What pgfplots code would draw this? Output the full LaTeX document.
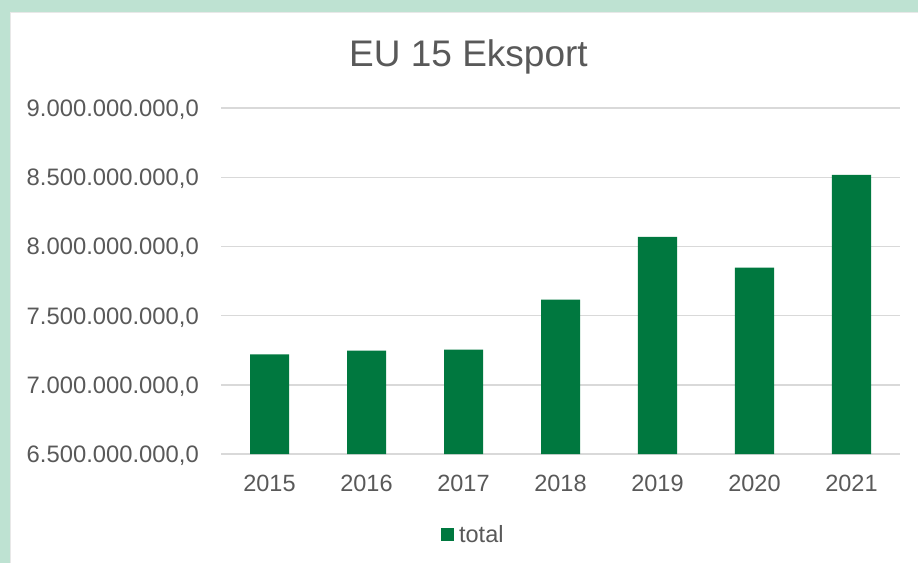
\documentclass[border=0pt]{standalone}
\usepackage{fontspec}
\setmainfont{Liberation Sans}
\usepackage{pgfplots}
\pgfplotsset{compat=1.18}
\definecolor{bargreen}{RGB}{0,120,63}
\definecolor{framegreen}{RGB}{190,226,210}
\definecolor{txtgray}{RGB}{89,89,89}
\definecolor{gridgray}{RGB}{217,217,217}

\begin{document}
\begin{tikzpicture}[x=1pt,y=1pt]
	% chart frame
	\fill[framegreen] (0,0) rectangle (918,563);
	\fill[white] (10,0) rectangle (918,551);
	\draw[gray!18, line width=0.8pt] (10.4,0) -- (10.4,550.6) -- (918,550.6);
	\node[font=\fontsize{37}{44}\selectfont, text=txtgray, anchor=base] at (468.5,496) {EU 15 Eksport};
	\begin{axis}[
		at={(221pt,109pt)}, anchor=south west, scale only axis,
		width=679pt, height=346pt,
		ybar, bar width=39pt,
		xmin=-0.5, xmax=6.5, ymin=6.5e9, ymax=9e9,
		scaled y ticks=false,
		xtick={0,1,2,3,4,5,6},
		xticklabels={2015,2016,2017,2018,2019,2020,2021},
		ytick={6.5e9,7e9,7.5e9,8e9,8.5e9,9e9},
		yticklabels={6.500.000.000{,}0,7.000.000.000{,}0,7.500.000.000{,}0,8.000.000.000{,}0,8.500.000.000{,}0,9.000.000.000{,}0},
		major tick length=0pt, tick style={draw=none},
		axis line style={draw=none},
		ymajorgrids, grid style={gridgray, line width=1.4pt},
		yticklabel style={font=\fontsize{23.8}{28}\selectfont, text=txtgray, anchor=base east, inner sep=0pt, xshift=-22pt, yshift=-8.5pt},
		xticklabel style={font=\fontsize{23.5}{28}\selectfont, text=txtgray, anchor=center, inner sep=0pt, yshift=-29.5pt},
		legend style={at={(0.3704,-0.2327)}, anchor=center, draw=none, fill=none, inner sep=0pt,
			font=\fontsize{23.5}{28}\selectfont, text=txtgray,
			nodes={inner sep=0pt},
			/tikz/every odd column/.append style={column sep=5pt}},
		]
		\addplot[fill=bargreen, draw=none,
			legend image code/.code={\fill[bargreen] (0pt,-6.35pt) rectangle (12.7pt,6.35pt);}]
			coordinates {(0,7.219e9) (1,7.247e9) (2,7.255e9) (3,7.615e9) (4,8.068e9) (5,7.846e9) (6,8.516e9)};
		\addlegendentry{total}
	\end{axis}
	\pgfresetboundingbox
	\path (0,0) rectangle (918,563);
\end{tikzpicture}
\end{document}
